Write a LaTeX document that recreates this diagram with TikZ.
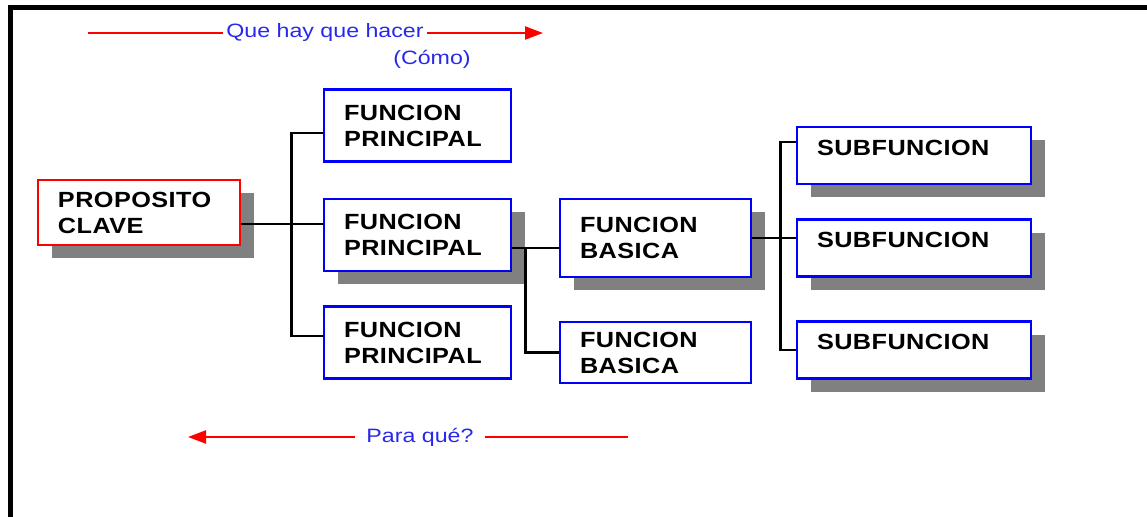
\documentclass[tikz,border=0pt]{standalone}
\usepackage{fontspec}
\setmainfont{Liberation Sans}
\newfontfamily\boxfont{Liberation Sans}[FakeStretch=1.15, LetterSpace=2]
\newfontfamily\notefont{Liberation Sans}[FakeStretch=1.2]
\usetikzlibrary{shadows, arrows.meta}
\definecolor{shadowgrey}{RGB}{128,128,128}
\definecolor{noteblue}{RGB}{40,40,235}
\tikzstyle{boxbase} = [rectangle, draw=blue, line width=1.5pt, fill=white, align=left, inner xsep=0.4cm, font=\boxfont\bfseries\fontsize{12.5}{14.8}\selectfont]
\tikzstyle{keybox} = [boxbase, draw=red, text width=3.24cm, minimum height=1.3cm]
\tikzstyle{mainbox} = [boxbase, text width=2.94cm, minimum height=1.44cm]
\tikzstyle{basicbox} = [boxbase, text width=3.02cm]
\tikzstyle{subbox} = [boxbase, text width=3.88cm, minimum height=1.14cm, text height=0.3cm, text depth=0.3cm]
\tikzstyle{shadowed} = [drop shadow={shadow xshift=0.27cm, shadow yshift=-0.27cm, fill=shadowgrey, opacity=1}]
\tikzstyle{link} = [line width=1.6pt, black]
\tikzstyle{flow} = [line width=1.3pt, red, -{Triangle[length=0.36cm, width=0.26cm]}]
\tikzstyle{note} = [text=noteblue, font=\notefont\fontsize{11}{13}\selectfont]

\begin{document}
\begin{tikzpicture}
	\useasboundingbox (0,0) rectangle (22.94,10.34);
	% frame
	\draw [line width=0.1cm] (0.21,0) -- (0.21,10.19) -- (22.94,10.19);
	% boxes
	\node (pc) [keybox, shadowed] at (2.78,6.09) {PROPOSITO\\CLAVE};
	\node (fp1) [mainbox] at (8.35,7.83) {FUNCION\\PRINCIPAL};
	\node (fp2) [mainbox, shadowed] at (8.35,5.64) {FUNCION\\PRINCIPAL};
	\node (fp3) [mainbox] at (8.35,3.49) {FUNCION\\PRINCIPAL};
	\node (fb1) [basicbox, shadowed, minimum height=1.56cm] at (13.11,5.58) {FUNCION\\BASICA};
	\node (fb2) [basicbox, minimum height=1.22cm] at (13.11,3.29) {FUNCION\\BASICA};
	\node (sf1) [subbox, shadowed] at (18.28,7.23) {SUBFUNCION};
	\node (sf2) [subbox, shadowed] at (18.28,5.38) {SUBFUNCION};
	\node (sf3) [subbox, shadowed] at (18.28,3.34) {SUBFUNCION};
	% junctions
	\coordinate (j1) at ([xshift=1cm, yshift=-0.23cm]pc.east);
	\coordinate (j2) at ([xshift=0.26cm, yshift=-0.26cm]fp2.east);
	\coordinate (j3) at ([xshift=0.56cm]fb1.east);
	%lines
	\draw [link] (pc.east |- j1) -- (fp2.west |- j1);
	\draw [link] ([yshift=-0.15cm]fp1.west) -| (j1) |- ([yshift=0.13cm]fp3.west);
	\draw [link] (fp2.east |- j2) -- (fb1.west |- j2);
	\draw [link] (j2) |- (fb2.west);
	\draw [link] (fb1.east) -- (sf2.west |- j3);
	\draw [link] ([yshift=0.27cm]sf1.west) -| (j3) |- (sf3.west);
	% direction notes
	\node (que) [note, inner xsep=0.06cm] at (6.5,9.68) {Que hay que hacer};
	\node (como) [note] at (8.64,9.16) {(Cómo)};
	\coordinate (qs) at (1.76,9.68);
	\coordinate (qe) at (10.86,9.68);
	\draw [flow, -] (qs) -- (que.west);
	\draw [flow] (que.east) -- (qe);
	\node (para) [note, inner xsep=0.22cm] at (8.4,1.6) {Para qué?};
	\coordinate (ps) at (12.56,1.6);
	\coordinate (pe) at (3.76,1.6);
	\draw [flow, -] (ps) -- (para.east);
	\draw [flow] (para.west) -- (pe);
\end{tikzpicture}
\end{document}
